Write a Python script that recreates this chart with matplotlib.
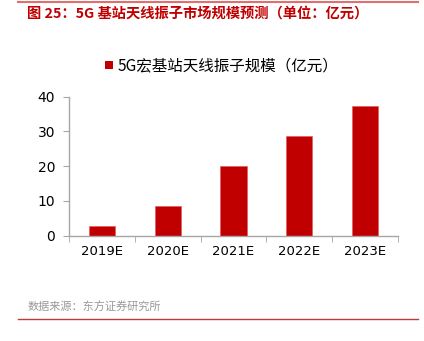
import matplotlib
matplotlib.use("Agg")
import matplotlib.pyplot as plt
from matplotlib.lines import Line2D
from matplotlib.patches import Patch

plt.rcParams['font.family'] = ['Noto Sans CJK SC', 'DejaVu Sans']

#### data
years = ['2019E', '2020E', '2021E', '2022E', '2023E']
scale = [2.9, 8.6, 20.1, 28.7, 37.3]
series_name = '5G宏基站天线振子规模（亿元）'
yticks = [0, 10, 20, 30, 40]

title = '图 25：5G 基站天线振子市场规模预测（单位：亿元）'
source = '数据来源：东方证券研究所'

red = '#c00000'
axis_grey = '#a6a6a6'

fig = plt.figure(figsize=(4.24, 3.41), dpi=100)
ax = fig.add_axes([69/424, 1-235.7/341, (398-69)/424, (235.7-96.7)/341])

x = range(len(years))
ax.bar(x, scale, width=0.4, color=red, edgecolor='#e06060', linewidth=0.5)

ax.set_xlim(-0.5, len(years) - 0.5)
ax.set_ylim(0, 40)
ax.set_yticks(yticks)
ax.set_xticks(list(x))
ax.set_xticklabels(years)
ax.set_xticks([i - 0.5 for i in range(len(years) + 1)], minor=True)

for s in ['top', 'right']:
    ax.spines[s].set_visible(False)
for s in ['left', 'bottom']:
    ax.spines[s].set_color(axis_grey)
    ax.spines[s].set_linewidth(1.0)

ax.tick_params(axis='y', direction='out', length=4, color=axis_grey,
               labelsize=10, pad=6, labelcolor='#000000')
ax.tick_params(axis='x', which='major', length=0, labelsize=9.5, pad=7)
ax.tick_params(axis='x', which='minor', direction='out', length=4, color=axis_grey)
for lab in ax.get_xticklabels() + ax.get_yticklabels():
    lab.set_family(['DejaVu Sans'])

#### legend
handle = Patch(facecolor=red, edgecolor='none')
fig.legend([handle], [series_name], loc='center', bbox_to_anchor=(222/424, 1-66/341),
           frameon=False, fontsize=11.2, handlelength=0.5, handleheight=0.5,
           handletextpad=0.3, borderpad=0)

#### title / source / lines
fig.add_artist(Line2D([18/424, 418/424], [1-2/341, 1-2/341], color='#e07070', lw=1.5))
fig.text(27/424, 1-14/341, title, color=red, fontsize=10.3, fontweight='bold',
         ha='left', va='center')
fig.text(28/424, 1-307/341, source, color='#999999', fontsize=8,
         ha='left', va='center')
fig.add_artist(Line2D([18/424, 418/424], [1-319/341, 1-319/341], color='#c0393b', lw=1.0))

fig.savefig('out.png', dpi=100)
